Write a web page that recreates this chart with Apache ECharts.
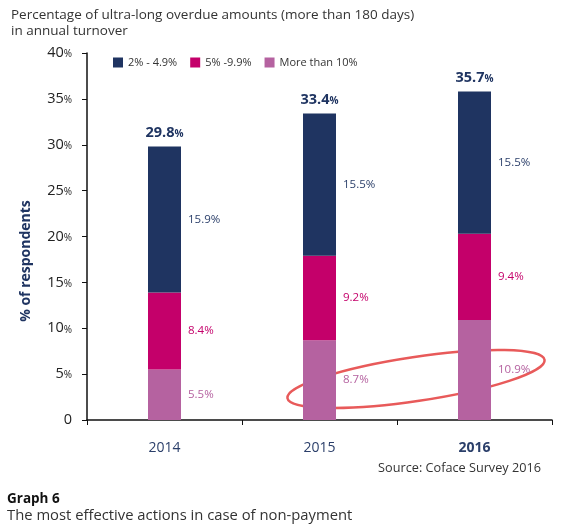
<!DOCTYPE html>
<html>
<head>
<meta charset="utf-8">
<script src="https://cdn.jsdelivr.net/npm/echarts@6/dist/echarts.min.js"></script>
<style>
  html, body { margin: 0; padding: 0; background: #fff; }
  #chart { width: 563px; height: 529px; }
</style>
</head>
<body>
<div id="chart"></div>
<script>
// chart values
const years = ["2014", "2015", "2016"];
const seriesNames = ["2% - 4.9%", "5% -9.9%", "More than 10%"];
const moreThan10 = [5.5, 8.7, 10.9];
const from5to9 = [8.4, 9.2, 9.4];
const from2to4 = [15.9, 15.5, 15.5];
const totals = ["29.8", "33.4", "35.7"];
const yTicks = [0, 5, 10, 15, 20, 25, 30, 35, 40];

const NAVY = "#1f3461";
const MAGENTA = "#c4006a";
const PINK = "#b562a0";
const FONT = "Open Sans";

const chart = echarts.init(document.getElementById("chart"));

// label on the right side of each segment
function sideLabel(color) {
  return {
    show: true,
    position: "right",
    distance: 7,
    color: color,
    fontFamily: FONT,
    fontSize: 11.5,
    formatter: (p) => p.value + "%",
  };
}

const option = {
  animation: false,
  textStyle: { fontFamily: FONT },
  title: {
    text: "Percentage of ultra-long overdue amounts (more than 180 days)\nin annual turnover",
    left: 6,
    top: 2,
    textStyle: { fontSize: 13.5, fontWeight: "normal", color: "#333", lineHeight: 16, fontFamily: FONT },
  },
  legend: {
    data: seriesNames,
    left: 108,
    top: 52,
    itemWidth: 10,
    itemHeight: 10,
    itemGap: 13,
    icon: "rect",
    textStyle: { fontSize: 11, color: "#333", fontFamily: FONT },
  },
  grid: { left: 87, right: 11, top: 53, bottom: 109 },
  xAxis: {
    type: "category",
    data: years,
    axisLine: { lineStyle: { color: "#111", width: 1.5 } },
    axisTick: { show: true, length: 5, lineStyle: { color: "#111" } },
    axisLabel: {
      margin: 21,
      fontSize: 14,
      color: "#2b3f6a",
      fontFamily: FONT,
      formatter: (v) => (v === "2016" ? "{b|" + v + "}" : v),
      rich: { b: { fontWeight: "bold", fontSize: 14, color: "#2b3f6a", fontFamily: FONT } },
    },
  },
  yAxis: {
    type: "value",
    min: yTicks[0],
    max: yTicks[yTicks.length - 1],
    interval: 5,
    axisLine: { show: true, lineStyle: { color: "#111", width: 1.5 } },
    axisTick: { show: true, length: 5, lineStyle: { color: "#111" } },
    splitLine: { show: false },
    axisLabel: {
      margin: 15,
      color: "#222",
      fontSize: 14.5,
      fontFamily: FONT,
      formatter: (v) => (v === 0 ? "0" : v + "{p|%}"),
      rich: { p: { fontSize: 10, color: "#222", fontFamily: FONT, padding: [3, 0, 0, 0] } },
    },
  },
  series: [
    {
      name: seriesNames[2],
      type: "bar",
      stack: "all",
      barWidth: 33,
      data: moreThan10,
      itemStyle: { color: PINK },
      label: sideLabel("#b562a0"),
    },
    {
      name: seriesNames[1],
      type: "bar",
      stack: "all",
      data: from5to9,
      itemStyle: { color: MAGENTA },
      label: sideLabel(MAGENTA),
    },
    {
      name: seriesNames[0],
      type: "bar",
      stack: "all",
      data: from2to4,
      itemStyle: { color: NAVY },
      label: sideLabel("#2b3f6a"),
    },
    {
      // empty bar on top of the stack, just carries the total label
      name: "total",
      type: "bar",
      stack: "all",
      data: years.map(() => 0),
      itemStyle: { color: "transparent" },
      label: {
        show: true,
        position: "top",
        distance: 6,
        formatter: (p) => "{n|" + totals[p.dataIndex] + "}{p|%}",
        rich: {
          n: { fontSize: 14.5, fontWeight: "bold", color: NAVY, fontFamily: FONT },
          p: { fontSize: 10, fontWeight: "bold", color: NAVY, fontFamily: FONT, padding: [3, 0, 0, 0] },
        },
      },
    },
  ],
  graphic: [
    {
      type: "text",
      x: 26,
      y: 261,
      rotation: Math.PI / 2,
      style: {
        text: "% of respondents",
        fontSize: 14,
        fontWeight: "bold",
        fill: NAVY,
        fontFamily: FONT,
        align: "center",
        verticalAlign: "middle",
      },
    },
    {
      type: "ellipse",
      x: 416,
      y: 379,
      rotation: 0.148,
      shape: { cx: 0, cy: 0, rx: 130, ry: 22 },
      style: { fill: "none", stroke: "#e85a5a", lineWidth: 2.5 },
    },
    {
      type: "text",
      right: 22,
      top: 462,
      style: { text: "Source: Coface Survey 2016", fontSize: 12.7, fill: "#333", fontFamily: FONT },
    },
    {
      type: "text",
      left: 7,
      top: 492,
      style: { text: "Graph 6", fontSize: 13.5, fontWeight: "bold", fill: "#111", fontFamily: FONT },
    },
    {
      type: "text",
      left: 7,
      top: 508,
      style: { text: "The most effective actions in case of non-payment", fontSize: 14.8, fill: "#333", fontFamily: FONT },
    },
  ],
};

chart.setOption(option);
</script>
</body>
</html>
